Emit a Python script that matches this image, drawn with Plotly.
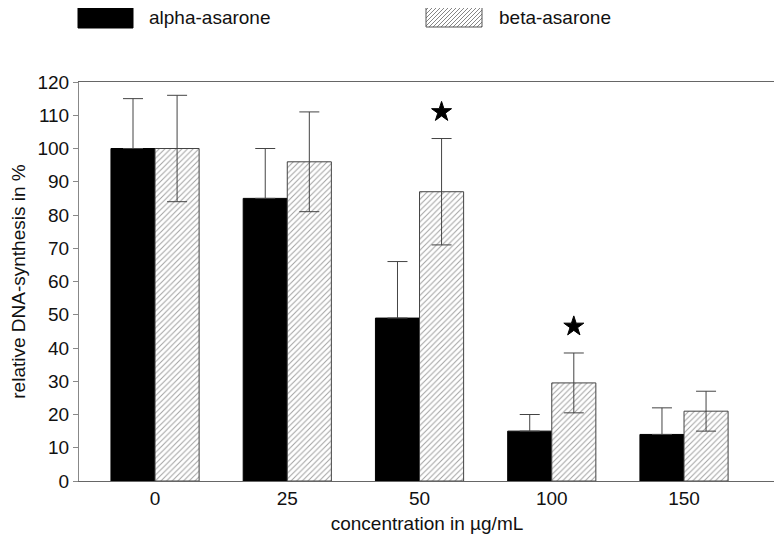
import numpy as np
import plotly.graph_objects as go

categories = ["0", "25", "50", "100", "150"]
alpha_vals = [100, 85, 49, 15, 14]
alpha_err = [15, 15, 17, 5, 8]
beta_vals = [100, 96, 87, 29.5, 21]
beta_err = [16, 15, 16, 9, 6]
star_idx = [2, 3]
star_y = [111, 46.5]
y_ticks = list(range(0, 121, 10))

FONT = "Liberation Sans, Arial, sans-serif"
FS = 19
OFF = 8  # default page body margin
W, H = 782 - OFF, 543 - OFF
L, R, T, B = 79 - OFF, 7, 82 - OFF, 62
PW, PH = W - L - R, H - T - B

xs = np.arange(len(categories))
bw = 1 / 3

fig = go.Figure()
fig.add_trace(go.Bar(
    x=xs, y=alpha_vals, width=bw, offset=-bw,
    marker=dict(color="black", line=dict(color="black", width=1)),
    error_y=dict(type="data", array=alpha_err, arrayminus=[0] * 5, symmetric=False,
                 color="#444", thickness=1, width=10),
    name="alpha-asarone", showlegend=False,
))
fig.add_trace(go.Bar(
    x=xs, y=beta_vals, width=bw, offset=0,
    marker=dict(color="white", line=dict(color="#444", width=1),
                pattern=dict(shape="/", fgcolor="#444", bgcolor="white", size=4, solidity=0.25)),
    error_y=dict(type="data", array=beta_err, color="#444", thickness=1, width=10),
    name="beta-asarone", showlegend=False,
))
fig.add_trace(go.Scatter(
    x=[xs[i] + bw / 2 for i in star_idx], y=star_y, mode="markers",
    marker=dict(symbol="star", size=15, color="black", line=dict(color="black", width=1)),
    showlegend=False, hoverinfo="skip",
))

# custom legend (screen pixel layout -> paper coordinates)
def px2paper(px, py):
    return (px - OFF - L) / PW, (OFF + T + PH - py) / PH

shapes = []
x0, y0 = px2paper(78, 28)
x1, y1 = px2paper(133, 6)
shapes.append(dict(type="rect", xref="paper", yref="paper", x0=x0, y0=y0, x1=x1, y1=y1,
                   fillcolor="black", line=dict(color="black", width=1)))
hx0, hx1, htop, hbot = 426, 482, 6, 27
hh = hbot - htop
a = hx0 - hh
while a < hx1:
    t0 = max(0, hx0 - a)
    t1 = min(hh, hx1 - a)
    if t1 > t0:
        p0 = px2paper(a + t0, hbot - t0)
        p1 = px2paper(a + t1, hbot - t1)
        shapes.append(dict(type="line", xref="paper", yref="paper", x0=p0[0], y0=p0[1],
                           x1=p1[0], y1=p1[1], line=dict(color="#666", width=0.8)))
    a += 4
x0, y0 = px2paper(hx0, hbot)
x1, y1 = px2paper(hx1, htop)
shapes.append(dict(type="rect", xref="paper", yref="paper", x0=x0, y0=y0, x1=x1, y1=y1,
                   fillcolor="rgba(0,0,0,0)", line=dict(color="#555", width=1)))

annotations = []
for px, txt in [(147, "alpha-asarone"), (497, "beta-asarone")]:
    ax, ay = px2paper(px, 17)
    annotations.append(dict(x=ax, y=ay, xref="paper", yref="paper", text=txt, showarrow=False,
                            xanchor="left", yanchor="middle", font=dict(size=FS, color="#111", family=FONT)))

fig.update_layout(
    width=W, height=H,
    margin=dict(l=L, r=R, t=T, b=B, autoexpand=False),
    paper_bgcolor="white", plot_bgcolor="white",
    font=dict(family=FONT, size=FS, color="#111"),
    barmode="overlay",
    shapes=shapes, annotations=annotations,
    showlegend=False,
    xaxis=dict(
        range=[-0.575, 4.688], tickvals=list(xs), ticktext=categories,
        ticks="", ticklen=0, showgrid=False, zeroline=False,
        showline=True, linecolor="#666", linewidth=1, mirror=True,
        title=dict(text="concentration in µg/mL", standoff=8, font=dict(size=FS)),
        tickfont=dict(size=FS), automargin=False,
    ),
    yaxis=dict(
        range=[0, 120], tickvals=y_ticks,
        ticks="outside", ticklen=5, tickcolor="#888", tickwidth=1,
        showgrid=False, zeroline=False,
        showline=True, linecolor="#888", linewidth=1, mirror=True,
        title=dict(text="relative DNA-synthesis in %", standoff=9, font=dict(size=FS)),
        tickfont=dict(size=FS), automargin=False,
    ),
)

fig.write_html("out.html")
